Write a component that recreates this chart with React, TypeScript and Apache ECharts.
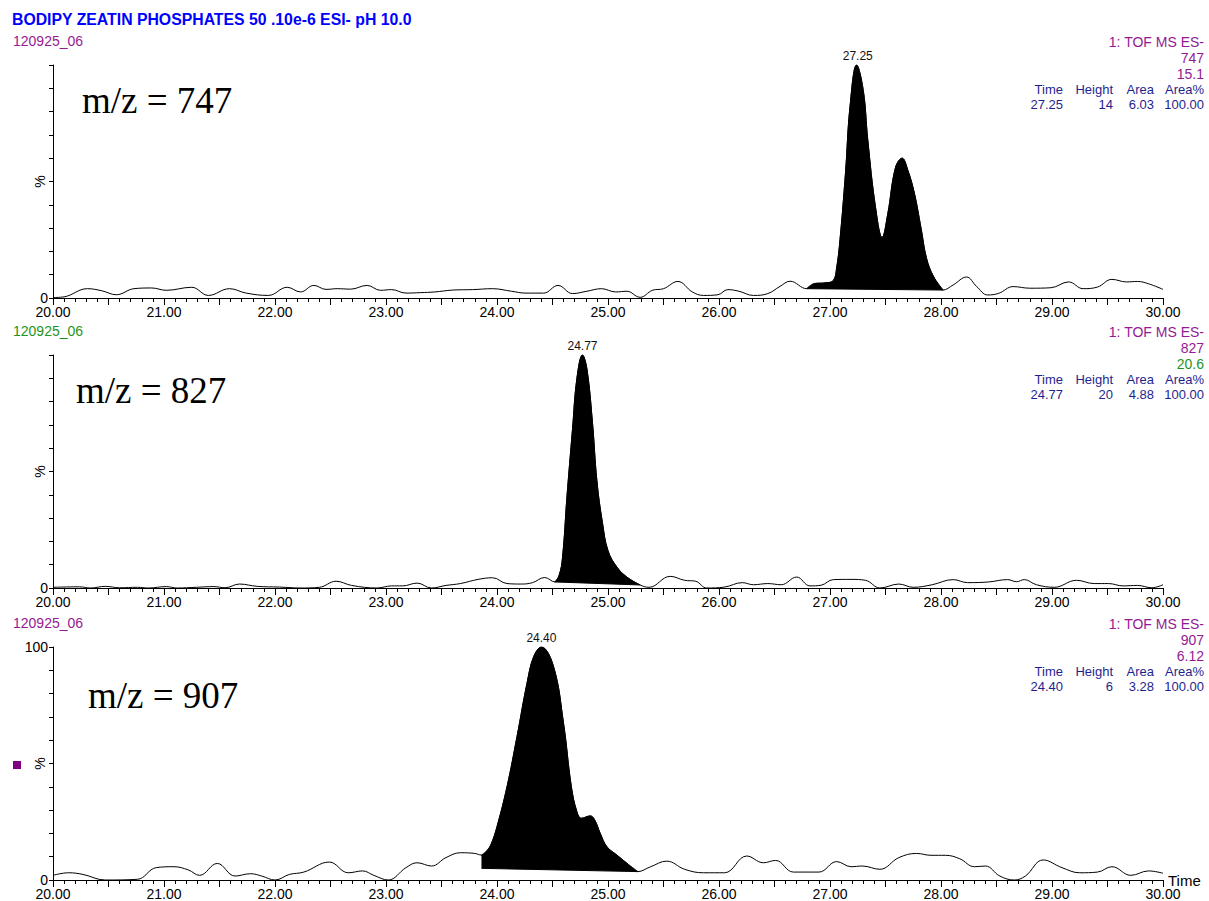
import React, { useEffect, useRef } from 'react';
import * as echarts from 'echarts';

const TITLE = 'BODIPY ZEATIN PHOSPHATES 50 .10e-6 ESI- pH 10.0';
const SAMPLE = '120925_06';
const FUNCTION_NAME = '1: TOF MS ES-';
const massLabels = ['m/z = 747', 'm/z = 827', 'm/z = 907'];
const channels = ['747', '827', '907'];
const intensities = ['15.1', '20.6', '6.12'];
const peakTimes = [27.25, 24.77, 24.4];
const peakHeights = ['14', '20', '6'];
const peakAreas = ['6.03', '4.88', '3.28'];
const peakAreaPct = ['100.00', '100.00', '100.00'];
const tableHeaders = ['Time', 'Height', 'Area', 'Area%'];

// chromatogram traces: [time (min), relative intensity (%)]
const trace747: number[][] = [
  [20.0, 0.2], [20.1, 0.5], [20.31, 4.0], [20.44, 3.1], [20.57, 1.4], [20.73, 4.0], [20.89, 4.3],
  [21.02, 3.3], [21.25, 4.6], [21.4, 1.1], [21.59, 4.0], [21.74, 2.1], [21.94, 1.1], [22.11, 4.6],
  [22.23, 2.6], [22.35, 5.4], [22.46, 3.7], [22.56, 4.0], [22.68, 3.8], [22.83, 5.4], [22.95, 3.3],
  [23.05, 3.6], [23.18, 2.1], [23.31, 2.3], [23.44, 2.6], [23.6, 3.4], [23.78, 3.6], [23.96, 4.0],
  [24.13, 2.9], [24.26, 2.1], [24.42, 2.1], [24.55, 5.4], [24.68, 1.9], [24.81, 2.9], [24.94, 4.0],
  [25.07, 2.6], [25.17, 2.9], [25.29, 0.3], [25.4, 3.3], [25.5, 4.0], [25.63, 7.1], [25.76, 2.6],
  [25.86, 1.1], [25.99, 1.4], [26.08, 3.6], [26.18, 2.9], [26.31, 1.1], [26.44, 1.9], [26.55, 5.0],
  [26.64, 7.2], [26.79, 4.0], [26.86, 6.2], [26.96, 6.5], [27.03, 7.5], [27.06, 13], [27.09, 25],
  [27.14, 54], [27.18, 82], [27.24, 100], [27.3, 89], [27.34, 68], [27.41, 39], [27.47, 26],
  [27.52, 36], [27.59, 56], [27.65, 60], [27.7, 55], [27.76, 45], [27.82, 30], [27.87, 17],
  [27.93, 9.5], [28.02, 3.4], [28.11, 5.6], [28.23, 9.0], [28.32, 5.0], [28.42, 1.3], [28.52, 2.0],
  [28.65, 4.9], [28.8, 4.2], [28.99, 4.4], [29.15, 6.9], [29.28, 4.0], [29.41, 4.7], [29.54, 8.0],
  [29.67, 6.9], [29.77, 7.1], [29.87, 6.1], [30.0, 3.7],
];
const trace827: number[][] = [
  [20.0, 0.3], [20.08, 0.4], [20.24, 0.5], [20.34, 0.0], [20.47, 0.7], [20.6, 0.1], [20.76, 0.3],
  [20.86, 0.0], [21.02, 0.6], [21.12, 0.0], [21.29, 0.3], [21.45, 0.6], [21.55, 0.1], [21.68, 1.7],
  [21.84, 0.7], [22.04, 0.4], [22.23, 0.0], [22.4, 0.3], [22.55, 2.9], [22.69, 1.1], [22.92, 0.0],
  [23.05, 0.9], [23.15, 0.9], [23.28, 2.1], [23.41, 0.0], [23.54, 1.1], [23.67, 1.9], [23.83, 3.7],
  [23.96, 4.4], [24.09, 1.9], [24.22, 1.7], [24.32, 2.3], [24.43, 4.5], [24.52, 2.6], [24.56, 5.5],
  [24.59, 13], [24.63, 39], [24.68, 68], [24.72, 90], [24.77, 100], [24.81, 94], [24.86, 71], [24.9, 46],
  [24.95, 28], [25.0, 16], [25.08, 9], [25.17, 4.7], [25.29, 1.3], [25.37, 0.3], [25.56, 5.0],
  [25.69, 3.3], [25.79, 2.9], [25.89, 0.0], [26.05, 0.4], [26.21, 2.3], [26.31, 1.4], [26.44, 1.9],
  [26.56, 1.4], [26.7, 4.7], [26.82, 0.9], [26.92, 1.2], [27.03, 3.6], [27.19, 3.7], [27.32, 3.3],
  [27.45, 0.0], [27.62, 1.7], [27.75, 0.3], [27.92, 1.4], [28.11, 3.6], [28.24, 2.3], [28.43, 2.6],
  [28.6, 3.6], [28.68, 2.7], [28.75, 3.6], [28.86, 1.4], [29.02, 0.3], [29.22, 3.3], [29.38, 1.9],
  [29.51, 1.9], [29.64, 0.9], [29.77, 1.1], [29.9, 0.1], [30.0, 1.4],
];
const trace907: number[][] = [
  [20.0, 2.0], [20.14, 3.1], [20.27, 2.4], [20.47, 0.0], [20.76, 0.3], [20.93, 5.3], [21.09, 5.7],
  [21.22, 4.3], [21.32, 2.0], [21.48, 7.1], [21.64, 1.7], [21.78, 2.7], [21.88, 1.7], [22.0, 0.0],
  [22.13, 2.4], [22.26, 3.4], [22.49, 7.7], [22.66, 3.1], [22.79, 3.9], [22.89, 2.0], [23.02, 0.0],
  [23.18, 5.3], [23.28, 7.4], [23.41, 6.0], [23.54, 9.6], [23.67, 11.7], [23.8, 11.4], [23.86, 10.7],
  [23.91, 12.6], [23.95, 15.7], [24.0, 22.9], [24.09, 40], [24.18, 61.5], [24.27, 84.4], [24.33, 95.8],
  [24.4, 100], [24.51, 91.5], [24.6, 67], [24.67, 40], [24.72, 29.3], [24.76, 26.5], [24.84, 27.5],
  [24.88, 25.8], [24.93, 20], [24.99, 14.3], [25.08, 10.7], [25.17, 7.2], [25.27, 3.6], [25.38, 5.6],
  [25.53, 8.1], [25.69, 4.6], [25.86, 3.1], [26.05, 3.1], [26.25, 10.3], [26.4, 7.4], [26.51, 8.4],
  [26.67, 3.4], [26.9, 3.4], [27.06, 7.9], [27.19, 5.7], [27.29, 6.0], [27.45, 4.6], [27.62, 9.6],
  [27.78, 11.4], [27.91, 10.6], [28.04, 10.6], [28.17, 9.1], [28.3, 5.7], [28.4, 6.0], [28.53, 1.7],
  [28.66, 0.0], [28.76, 1.7], [28.92, 8.6], [29.09, 5.3], [29.25, 3.1], [29.41, 3.4], [29.54, 5.7],
  [29.71, 2.0], [29.87, 3.9], [30.0, 2.9],
];
const traces = [trace747, trace827, trace907];

// integration baselines: [start point, end point]
const base747 = [[26.79, 4.0], [28.02, 3.4]];
const base827 = [[24.52, 2.6], [25.29, 1.3]];
const base907 = [[23.86, 5.0], [25.27, 3.6]];
const baselines = [base747, base827, base907];

const PURPLE = '#931a93';
const GREEN = '#1e941e';
const NAVY = '#1f1f8f';
const sampleColors = [PURPLE, GREEN, PURPLE];
const SANS = '"Liberation Sans", Arial, sans-serif';
const SERIF = '"Liberation Serif", "Times New Roman", serif';

const GRID_TOPS = [65, 355, 647];
const GRID_H = 233;
const LEFT = 53;
const RIGHT = 46;
const SMOOTH = 0.4;

const App: React.FC = () => {
  const ref = useRef<HTMLDivElement>(null);
  useEffect(() => {
    if (!ref.current) return;
    const chart = echarts.init(ref.current, undefined, { renderer: 'svg' });

    const grids = GRID_TOPS.map((top) => ({
      left: LEFT,
      right: RIGHT,
      top,
      height: GRID_H,
      containLabel: false,
      outerBoundsMode: 'none',
    }));
    const xAxes = GRID_TOPS.map((_, i) => ({
      type: 'value',
      gridIndex: i,
      z: 10,
      min: 20,
      max: 30,
      interval: 0.5,
      name: i === 2 ? 'Time' : '',
      nameLocation: 'end',
      nameGap: 5,
      nameMoveOverlap: false,
      nameTextStyle: { fontFamily: SANS, fontSize: 15, color: '#000', verticalAlign: 'middle' },
      axisLine: { show: true, onZero: false, lineStyle: { color: '#000', width: 1 } },
      axisTick: { show: true, length: 7, lineStyle: { color: '#000' } },
      minorTick: { show: true, splitNumber: 5, length: 4, lineStyle: { color: '#000' } },
      splitLine: { show: false },
      axisLabel: {
        margin: 7,
        fontFamily: SANS,
        fontSize: 14,
        color: '#000',
        formatter: (v: number) => (Math.abs(v - Math.round(v)) < 1e-6 ? v.toFixed(2) : ''),
      },
    }));
    const yAxes = GRID_TOPS.map((_, i) => ({
      type: 'value',
      gridIndex: i,
      z: 10,
      min: 0,
      max: 100,
      interval: 10,
      name: '%',
      nameLocation: 'middle',
      nameGap: 6,
      nameRotate: 90,
      nameMoveOverlap: false,
      nameTextStyle: { fontFamily: SANS, fontSize: 14, color: '#000' },
      axisLine: { show: true, lineStyle: { color: '#000', width: 1 } },
      axisTick: { show: true, length: 4, lineStyle: { color: '#000' } },
      splitLine: { show: false },
      axisLabel: {
        margin: 5,
        fontFamily: SANS,
        fontSize: 14,
        color: '#000',
        formatter: (v: number) => (v === 0 ? '0' : i === 2 && v === 100 ? '100' : ''),
      },
    }));

    // black area under the integrated peak (down to the axis)
    const areaSeries = traces.map((tr, i) => {
      const [s, e] = baselines[i];
      return {
        type: 'line',
        xAxisIndex: i,
        yAxisIndex: i,
        data: tr.filter((p) => p[0] >= s[0] - 1e-9 && p[0] <= e[0] + 1e-9),
        smooth: SMOOTH,
        symbol: 'none',
        silent: true,
        z: 2,
        lineStyle: { color: '#000', width: 1 },
        areaStyle: { color: '#000', opacity: 1 },
      };
    });

    // white cover below the integration baseline
    const coverSeries = traces.map((_tr, i) => ({
      type: 'custom',
      coordinateSystem: 'cartesian2d',
      xAxisIndex: i,
      yAxisIndex: i,
      data: [baselines[i][0]],
      z: 3,
      silent: true,
      renderItem: (_params: any, api: any) => {
        const [s, e] = baselines[i];
        const b0 = api.coord(s);
        const b1 = api.coord(e);
        const z1 = api.coord([e[0], 0]);
        const z0 = api.coord([s[0], 0]);
        return {
          type: 'polygon',
          shape: { points: [[b0[0] - 1, b0[1]], [b1[0] + 1, b1[1]], [z1[0] + 1, z1[1] + 1], [z0[0] - 1, z0[1] + 1]] },
          style: { fill: '#ffffff' },
        };
      },
    }));

    const lineSeries = traces.map((tr, i) => ({
      type: 'line',
      xAxisIndex: i,
      yAxisIndex: i,
      data: tr,
      smooth: SMOOTH,
      symbol: 'none',
      z: 4,
      lineStyle: { color: '#000', width: 1 },
      markPoint: {
        symbol: 'rect',
        symbolSize: 0,
        silent: true,
        data: [{ coord: [peakTimes[i], 100] }],
        label: {
          show: true,
          position: 'top',
          distance: 3,
          formatter: peakTimes[i].toFixed(2),
          fontFamily: SANS,
          fontSize: 12,
          color: '#111',
        },
      },
    }));

    // baseline edge line
    const baseLineSeries = traces.map((_tr, i) => ({
      type: 'line',
      xAxisIndex: i,
      yAxisIndex: i,
      data: baselines[i],
      symbol: 'none',
      silent: true,
      z: 4,
      lineStyle: { color: '#000', width: 1 },
    }));

    const graphics: any[] = [
      {
        type: 'text',
        x: 12,
        y: 19,
        style: { text: TITLE, fill: '#0000ff', font: `bold 15.8px ${SANS}`, align: 'left', verticalAlign: 'middle' },
      },
      { type: 'rect', shape: { x: 13, y: 761, width: 8, height: 8 }, style: { fill: '#800080' } },
    ];
    const headerRight = [1063, 1113, 1154, 1204];
    const massX = [82, 76, 88];
    const massY = [100, 390, 695];
    GRID_TOPS.forEach((top, i) => {
      const dy = top - 65;
      const col = sampleColors[i];
      graphics.push(
        { type: 'text', x: 13, y: 41 + dy, style: { text: SAMPLE, fill: col, font: `14px ${SANS}`, align: 'left', verticalAlign: 'middle' } },
        { type: 'text', x: 1204, y: 42 + dy, style: { text: FUNCTION_NAME, fill: PURPLE, font: `14px ${SANS}`, align: 'right', verticalAlign: 'middle' } },
        { type: 'text', x: 1204, y: 58 + dy, style: { text: channels[i], fill: PURPLE, font: `14px ${SANS}`, align: 'right', verticalAlign: 'middle' } },
        { type: 'text', x: 1204, y: 74 + dy, style: { text: intensities[i], fill: col, font: `14px ${SANS}`, align: 'right', verticalAlign: 'middle' } },
        { type: 'text', x: massX[i], y: massY[i], style: { text: massLabels[i], fill: '#000', font: `37px ${SERIF}`, align: 'left', verticalAlign: 'middle' } },
      );
      const values = [peakTimes[i].toFixed(2), peakHeights[i], peakAreas[i], peakAreaPct[i]];
      headerRight.forEach((xr, k) => {
        graphics.push(
          { type: 'text', x: xr, y: 89 + dy, style: { text: tableHeaders[k], fill: NAVY, font: `13px ${SANS}`, align: 'right', verticalAlign: 'middle' } },
          { type: 'text', x: xr, y: 104 + dy, style: { text: values[k], fill: NAVY, font: `13px ${SANS}`, align: 'right', verticalAlign: 'middle' } },
        );
      });
    });

    chart.setOption({
      animation: false,
      backgroundColor: '#ffffff',
      grid: grids,
      xAxis: xAxes,
      yAxis: yAxes,
      series: [...areaSeries, ...coverSeries, ...lineSeries, ...baseLineSeries],
      graphic: graphics,
    });
    return () => chart.dispose();
  }, []);
  return <div ref={ref} style={{ position: 'fixed', left: 0, top: 0, width: 1209, height: 901 }} />;
};

export default App;
